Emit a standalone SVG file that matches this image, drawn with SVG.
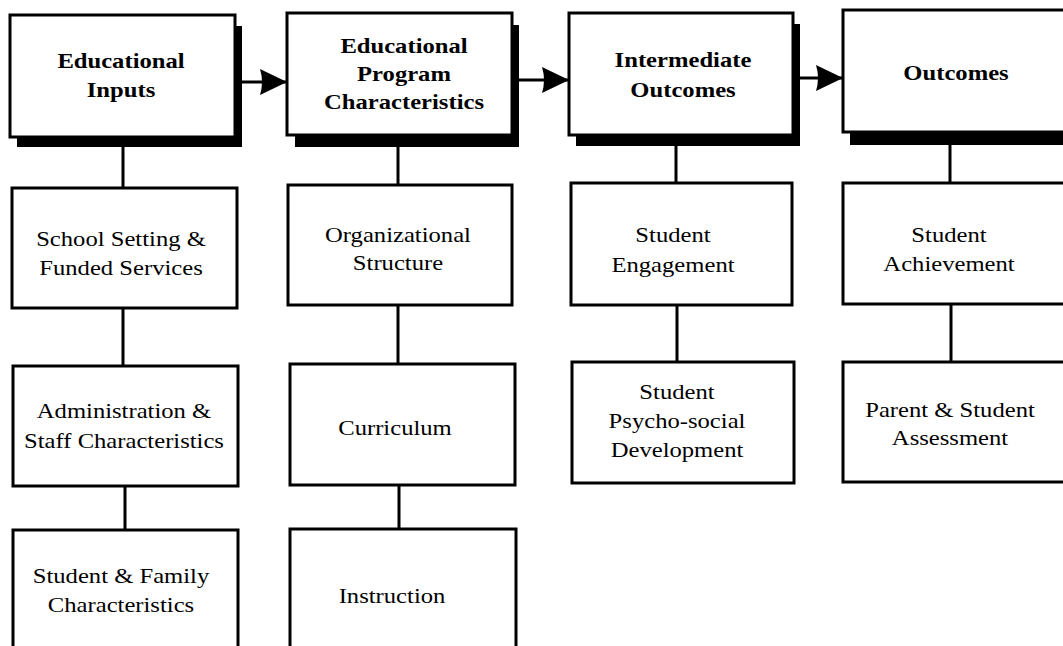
<svg xmlns="http://www.w3.org/2000/svg" width="1063" height="646" viewBox="0 0 1063 646">
<defs>
<style>
.box{fill:#fff;stroke:#000;stroke-width:3}
.shadow{fill:#000}
.conn{stroke:#000;stroke-width:3;fill:none}
.hd{font-family:"Liberation Serif","Times New Roman",serif;font-size:22px;font-weight:bold;text-anchor:middle;fill:#000}
.tx{font-family:"Liberation Serif","Times New Roman",serif;font-size:22px;text-anchor:middle;fill:#000}
</style>
<marker id="arr" markerUnits="userSpaceOnUse" markerWidth="27" markerHeight="26" refX="27" refY="13" orient="auto">
<path d="M0,0 L27,13 L0,26 Q4,13 0,0 z" fill="#000"/>
</marker>
</defs>
<rect width="1063" height="646" fill="#fff"/>

<g id="connectors">
<line class="conn" x1="237" y1="82" x2="287" y2="82" marker-end="url(#arr)"/>
<line class="conn" x1="514" y1="80" x2="569" y2="80" marker-end="url(#arr)"/>
<line class="conn" x1="795" y1="78" x2="843" y2="78" marker-end="url(#arr)"/>
<line class="conn" x1="123" y1="146" x2="123" y2="188"/>
<line class="conn" x1="123" y1="308" x2="123" y2="366"/>
<line class="conn" x1="125" y1="486" x2="125" y2="530"/>
<line class="conn" x1="398" y1="147" x2="398" y2="185"/>
<line class="conn" x1="398" y1="305" x2="398" y2="364"/>
<line class="conn" x1="399" y1="485" x2="399" y2="529"/>
<line class="conn" x1="676" y1="146" x2="676" y2="183"/>
<line class="conn" x1="677" y1="305" x2="677" y2="362"/>
<line class="conn" x1="950" y1="145" x2="950" y2="183"/>
<line class="conn" x1="951" y1="304" x2="951" y2="362"/>
</g>

<g id="educational-inputs">
<rect class="shadow" x="17" y="26" width="225" height="121"/>
<rect class="box" x="10" y="15" width="225" height="122"/>
<text class="hd" transform="translate(121 0) scale(1.12 1)"><tspan x="0" y="68">Educational</tspan><tspan x="0" y="97">Inputs</tspan></text>
</g>

<g id="program-characteristics">
<rect class="shadow" x="295" y="25" width="224" height="122"/>
<rect class="box" x="287" y="13" width="225" height="122"/>
<text class="hd" transform="translate(404 0) scale(1.12 1)"><tspan x="0" y="53">Educational</tspan><tspan x="0" y="81">Program</tspan><tspan x="0" y="109">Characteristics</tspan></text>
</g>

<g id="intermediate-outcomes">
<rect class="shadow" x="576" y="24" width="224" height="122"/>
<rect class="box" x="569" y="13" width="224" height="122"/>
<text class="hd" transform="translate(683 0) scale(1.12 1)"><tspan x="0" y="67">Intermediate</tspan><tspan x="0" y="97">Outcomes</tspan></text>
</g>

<g id="outcomes">
<rect class="shadow" x="850" y="22" width="240" height="123"/>
<rect class="box" x="843" y="10" width="240" height="122"/>
<text class="hd" transform="translate(956 0) scale(1.12 1)"><tspan x="0" y="80">Outcomes</tspan></text>
</g>

<g id="school-setting">
<rect class="box" x="12" y="188" width="225" height="120"/>
<text class="tx" transform="translate(121 0) scale(1.12 1)"><tspan x="0" y="246">School Setting &amp;</tspan><tspan x="0" y="275">Funded Services</tspan></text>
</g>

<g id="administration">
<rect class="box" x="13" y="366" width="225" height="120"/>
<text class="tx" transform="translate(124 0) scale(1.12 1)"><tspan x="0" y="418">Administration &amp;</tspan><tspan x="0" y="448">Staff Characteristics</tspan></text>
</g>

<g id="student-family">
<rect class="box" x="13" y="530" width="225" height="130"/>
<text class="tx" transform="translate(121 0) scale(1.12 1)"><tspan x="0" y="583">Student &amp; Family</tspan><tspan x="0" y="612">Characteristics</tspan></text>
</g>

<g id="organizational-structure">
<rect class="box" x="288" y="185" width="224" height="120"/>
<text class="tx" transform="translate(398 0) scale(1.12 1)"><tspan x="0" y="242">Organizational</tspan><tspan x="0" y="270">Structure</tspan></text>
</g>

<g id="curriculum">
<rect class="box" x="290" y="364" width="225" height="121"/>
<text class="tx" transform="translate(395 0) scale(1.12 1)"><tspan x="0" y="435">Curriculum</tspan></text>
</g>

<g id="instruction">
<rect class="box" x="290" y="529" width="226" height="130"/>
<text class="tx" transform="translate(392 0) scale(1.12 1)"><tspan x="0" y="603">Instruction</tspan></text>
</g>

<g id="student-engagement">
<rect class="box" x="571" y="183" width="221" height="122"/>
<text class="tx" transform="translate(673 0) scale(1.12 1)"><tspan x="0" y="242">Student</tspan><tspan x="0" y="272">Engagement</tspan></text>
</g>

<g id="psycho-social">
<rect class="box" x="572" y="362" width="222" height="121"/>
<text class="tx" transform="translate(677 0) scale(1.12 1)"><tspan x="0" y="399">Student</tspan><tspan x="0" y="428">Psycho-social</tspan><tspan x="0" y="457">Development</tspan></text>
</g>

<g id="student-achievement">
<rect class="box" x="843" y="183" width="240" height="121"/>
<text class="tx" transform="translate(949 0) scale(1.12 1)"><tspan x="0" y="242">Student</tspan><tspan x="0" y="271">Achievement</tspan></text>
</g>

<g id="parent-student-assessment">
<rect class="box" x="843" y="362" width="240" height="120"/>
<text class="tx" transform="translate(950 0) scale(1.12 1)"><tspan x="0" y="417">Parent &amp; Student</tspan><tspan x="0" y="445">Assessment</tspan></text>
</g>
</svg>
